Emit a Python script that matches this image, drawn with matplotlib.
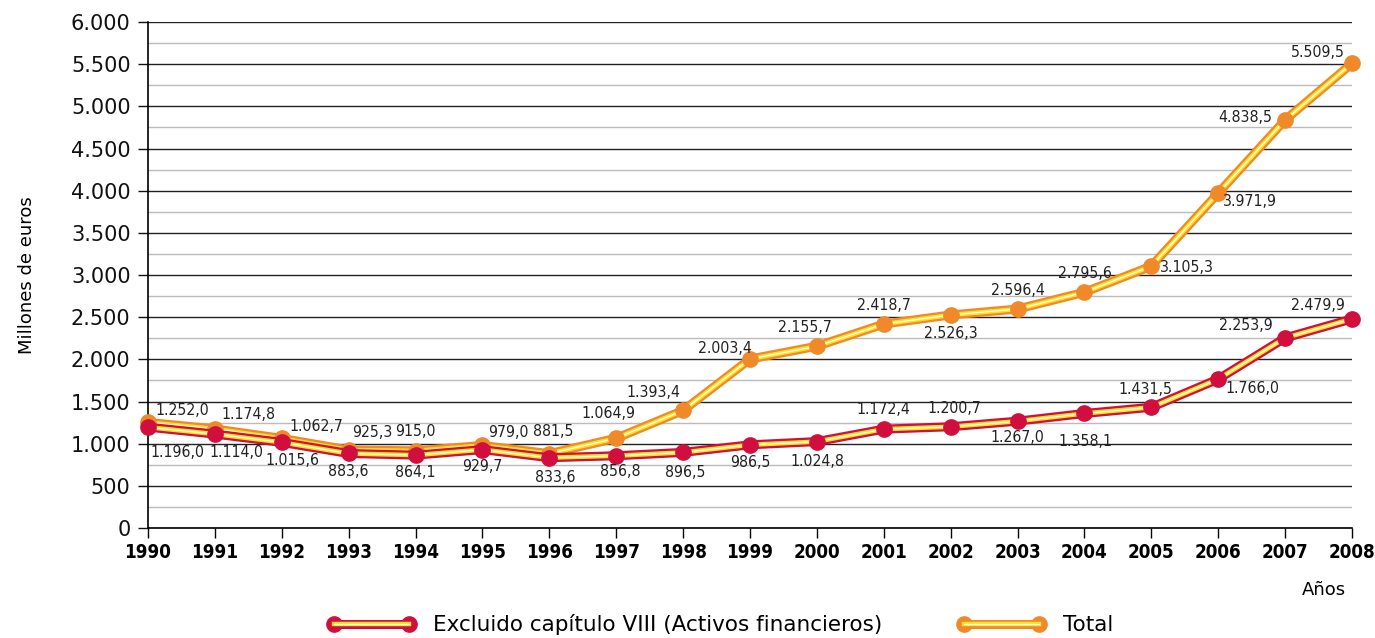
import matplotlib
matplotlib.use("Agg")
import matplotlib.pyplot as plt
from matplotlib.lines import Line2D
from matplotlib.legend_handler import HandlerTuple
from matplotlib.ticker import MultipleLocator, FuncFormatter

years = list(range(1990, 2009))
total = [1252.0, 1174.8, 1062.7, 925.3, 915.0, 979.0, 881.5, 1064.9, 1393.4,
         2003.4, 2155.7, 2418.7, 2526.3, 2596.4, 2795.6, 3105.3, 3971.9, 4838.5, 5509.5]
excluido = [1196.0, 1114.0, 1015.6, 883.6, 864.1, 929.7, 833.6, 856.8, 896.5,
            986.5, 1024.8, 1172.4, 1200.7, 1267.0, 1358.1, 1431.5, 1766.0, 2253.9, 2479.9]

# label placement: (dx px, dy px, ha) relative to the point, text vertically centred
total_pos = [(7, 12, 'left'), (7, 14, 'left'), (8, 12, 'left'), (3, 17, 'left'), (0, 19, 'center'),
             (6, 13, 'left'), (4, 22, 'center'), (-8, 25, 'center'), (-3, 18, 'right'), (2, 11, 'right'),
             (-12, 19, 'center'), (0, 19, 'center'), (0, -19, 'center'), (0, 19, 'center'), (0, 19, 'center'),
             (9, -1, 'left'), (5, -8, 'left'), (-13, 2, 'right'), (-7, 11, 'right')]
excl_pos = [(2, -25, 'left'), (-5, -18, 'left'), (11, -18, 'center'), (0, -18, 'center'), (0, -17, 'center'),
            (0, -17, 'center'), (6, -20, 'center'), (4, -16, 'center'), (2, -20, 'center'), (0, -18, 'center'),
            (0, -20, 'center'), (0, 20, 'center'), (4, 18, 'center'), (0, -16, 'center'), (1, -28, 'center'),
            (-6, 18, 'center'), (7, -9, 'left'), (-12, 12, 'right'), (-7, 13, 'right')]

RED = '#d10f3f'
ORANGE = '#f0892a'
YELLOW = '#ffe21a'

def es(v, dec=1):
    s = f"{v:,.{dec}f}"
    return s.replace(',', 'X').replace('.', ',').replace('X', '.')

def draw(ax, ys, col, z):
    ax.plot(years, ys, color=col, lw=6.5, solid_joinstyle='round', zorder=z, clip_on=False)
    ax.plot(years, ys, color=YELLOW, lw=3.2, solid_joinstyle='round', zorder=z + 0.1, clip_on=False)
    ax.plot(years, ys, color='white', lw=0.9, solid_joinstyle='round', zorder=z + 0.2, clip_on=False)
    ax.plot(years, ys, 'o', color=col, ms=11, zorder=z + 0.3, clip_on=False)

fig = plt.figure(figsize=(13.75, 6.38), dpi=100)
ax = fig.add_axes([0.1076, 0.1724, 0.8757, 0.7931])

draw(ax, total, ORANGE, 3)
draw(ax, excluido, RED, 4)

lab_font = dict(family='DejaVu Sans', fontstretch='condensed', fontsize=11.3, color='#222222')
for x, y, p in zip(years, total, total_pos):
    ax.annotate(es(y), (x, y), xytext=(p[0] * 0.72, p[1] * 0.72), textcoords='offset points',
                ha=p[2], va='center', zorder=7, **lab_font)
for x, y, p in zip(years, excluido, excl_pos):
    ax.annotate(es(y), (x, y), xytext=(p[0] * 0.72, p[1] * 0.72), textcoords='offset points',
                ha=p[2], va='center', zorder=7, **lab_font)

ax.set_xlim(1990, 2008)
ax.set_ylim(0, 6000)
ax.yaxis.set_major_locator(MultipleLocator(500))
ax.yaxis.set_minor_locator(MultipleLocator(250))
ax.yaxis.set_major_formatter(FuncFormatter(lambda v, p: es(v, 0)))
ax.set_xticks(years)
ax.grid(axis='y', which='major', color='#222222', lw=1.0, zorder=1)
ax.grid(axis='y', which='minor', color='#bbbbbb', lw=1.0, zorder=1)
ax.tick_params(axis='y', which='major', length=7.5, width=1, labelsize=15, pad=5, colors='#111111')
ax.tick_params(axis='y', which='minor', length=0)
ax.tick_params(axis='x', length=7, width=1, pad=4)
for t in ax.get_xticklabels():
    t.set_family('DejaVu Sans')
    t.set_fontstretch('condensed')
    t.set_fontweight('bold')
    t.set_fontsize(13.5)
for s in ['top', 'right']:
    ax.spines[s].set_visible(False)
ax.spines['left'].set_linewidth(1.2)
ax.spines['bottom'].set_linewidth(1.2)
ax.set_ylabel('Millones de euros', fontsize=13, labelpad=25)
fig.text(0.979, 0.075, 'Años', fontsize=13, ha='right', va='center')

h1 = (Line2D([], [], color=RED, lw=6.5, marker='o', ms=11),
      Line2D([], [], color=YELLOW, lw=3.2),
      Line2D([], [], color='white', lw=0.9))
h2 = (Line2D([], [], color=ORANGE, lw=6.5, marker='o', ms=11),
      Line2D([], [], color=YELLOW, lw=3.2),
      Line2D([], [], color='white', lw=0.9))
fig.legend([h1, h2], ['Excluido capítulo VIII (Activos financieros)', 'Total'],
           handler_map={tuple: HandlerTuple(ndivide=1)}, loc='center', bbox_to_anchor=(0.524, 0.021),
           ncol=2, frameon=False, handlelength=4.1, handletextpad=0.8, columnspacing=3.5, numpoints=2,
           prop={'family': 'DejaVu Sans', 'size': 15.5})

fig.savefig('out.png', dpi=100)
